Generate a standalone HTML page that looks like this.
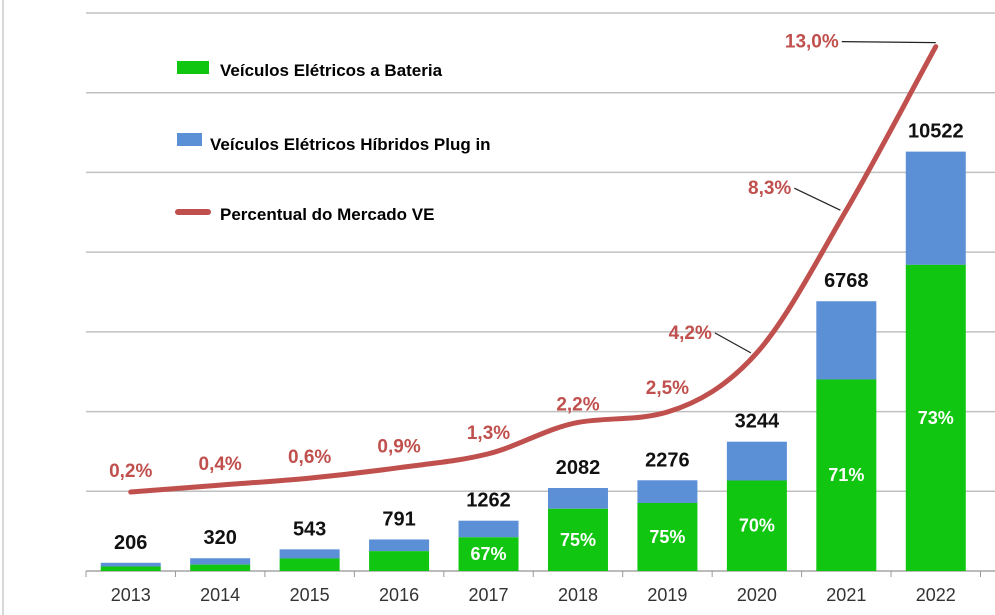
<!DOCTYPE html>
<html><head><meta charset="utf-8"><style>
html,body{margin:0;padding:0;background:#fff;}
svg{display:block;font-family:"Liberation Sans",Arial,sans-serif;}
.lg{font-family:"Liberation Sans",Arial,sans-serif;font-weight:bold;font-size:17px;fill:#000;}
</style></head><body>
<svg id="c" width="995" height="615" viewBox="0 0 995 615">
<rect x="0" y="0" width="995" height="615" fill="#fff"/>
<line x1="3" y1="0" x2="3" y2="615" stroke="#ccc" stroke-width="1.5"/>
<g id="grid"></g><g id="bars"></g><g id="line"></g><g id="labels"></g>
<g>
<rect x="177" y="61" width="32" height="13" fill="#11c611"/>
<text class="lg" x="220" y="76">Veículos Elétricos a Bateria</text>
<rect x="177" y="133" width="25" height="13" fill="#5b8fd6"/>
<text class="lg" x="210" y="150">Veículos Elétricos Híbridos Plug in</text>
<line x1="178" y1="212" x2="208" y2="212" stroke="#c0504d" stroke-width="6" stroke-linecap="round"/>
<text class="lg" x="220" y="220">Percentual do Mercado VE</text>
</g>
</svg>
<script>
const years=["2013","2014","2015","2016","2017","2018","2019","2020","2021","2022"];
const totals=[206,320,543,791,1262,2082,2276,3244,6768,10522];
const bevShare=[0.55,0.5,0.58,0.63,0.67,0.75,0.75,0.70,0.71,0.73];
const shareLabels=["","","","","67%","75%","75%","70%","71%","73%"];
const marketPct=[0.2,0.4,0.6,0.9,1.3,2.2,2.5,4.2,8.3,13.0];
const pctText=["0,2%","0,4%","0,6%","0,9%","1,3%","2,2%","2,5%","4,2%","8,3%","13,0%"];
const yTicks=[0,2000,4000,6000,8000,10000,12000,14000];

const NS="http://www.w3.org/2000/svg";
const X0=86,STEP=89.45,BW=60,BASE=571;
const xc=i=>X0+STEP*(i+0.5);
const yv=v=>BASE-v*(558/14000);
const yp=p=>499-34.8*p;
function mk(tag,attrs,parent){const e=document.createElementNS(NS,tag);for(const k in attrs)e.setAttribute(k,attrs[k]);parent.appendChild(e);return e;}
const G=document.getElementById('grid'),B=document.getElementById('bars'),L=document.getElementById('line'),T=document.getElementById('labels');

yTicks.forEach((t,i)=>{
  const l=mk('line',{x1:X0,x2:995,y1:yv(t),y2:yv(t),stroke:i===0?'#bbb':'#c0c0c0','stroke-width':i===0?2:1.5},G);
  
  
});
for(let i=0;i<=years.length;i++){
  const t=mk('line',{x1:X0+STEP*i,x2:X0+STEP*i,y1:BASE,y2:BASE+6,stroke:'#999','stroke-width':1},G);
  
  
}
years.forEach((y,i)=>{
  const cx=xc(i),top=yv(totals[i]),gtop=yv(totals[i]*bevShare[i]);
  const p=mk('rect',{x:cx-BW/2,y:top,width:BW,height:gtop-top,fill:'#5b8fd6'},B);
  
  
  const g=mk('rect',{x:cx-BW/2,y:gtop,width:BW,height:BASE-gtop,fill:'#11c611'},B);
  
  
  const tl=mk('text',{x:cx,y:top-14,'text-anchor':'middle','font-size':20,'font-weight':'bold',fill:'#111'},T);
  tl.textContent=totals[i];
  
  
  if(shareLabels[i]){
    const sl=mk('text',{x:cx,y:(gtop+BASE)/2+6,'text-anchor':'middle','font-size':18,'font-weight':'bold',fill:'#fff'},T);
    sl.textContent=shareLabels[i];
    
    
  }
  const xl=mk('text',{x:cx,y:601,'text-anchor':'middle','font-size':18,fill:'#333'},T);
  xl.textContent=y;
  
  
});
const pts=marketPct.map((p,i)=>[xc(i),yp(p)]);
const n=pts.length,d=[],m=[];
for(let i=0;i<n-1;i++)d.push((pts[i+1][1]-pts[i][1])/(pts[i+1][0]-pts[i][0]));
m[0]=d[0];m[n-1]=d[n-2];
for(let i=1;i<n-1;i++)m[i]=d[i-1]*d[i]<=0?0:(d[i-1]+d[i])/2;
for(let i=0;i<n-1;i++){if(d[i]===0){m[i]=m[i+1]=0;continue;}const a=m[i]/d[i],b=m[i+1]/d[i],s=a*a+b*b;if(s>9){const t=3/Math.sqrt(s);m[i]=t*a*d[i];m[i+1]=t*b*d[i];}}
let path='M'+pts[0][0]+','+pts[0][1];
for(let i=0;i<n-1;i++){const h=(pts[i+1][0]-pts[i][0])/3;path+=` C${pts[i][0]+h},${pts[i][1]+m[i]*h} ${pts[i+1][0]-h},${pts[i+1][1]-m[i+1]*h} ${pts[i+1][0]},${pts[i+1][1]}`;}
const ln=mk('path',{d:path,fill:'none',stroke:'#c0504d','stroke-width':5,'stroke-linecap':'round'},L);


marketPct.forEach((p,i)=>{
  const cx=xc(i),cy=yp(p);
  let lx=cx,ly=cy-15,anchor='middle';
  if(i>=7){anchor='end';lx=cx-(i===9?97:i===8?55:45);ly=cy+(i===9?1:i===8?-16:-14);
    const ll=mk('line',{x1:lx+3,y1:ly-6,x2:cx-(i===9?0:6),y2:cy-(i===9?4:0),stroke:'#222','stroke-width':1.2},T);
    
    
  } else if(i===5){ly=cy-12;} else if(i===6){ly=cy-18;}
  const t=mk('text',{x:lx,y:ly,'text-anchor':anchor,'font-size':19,'font-weight':'bold',fill:'#c0504d'},T);
  t.textContent=pctText[i];
  
  
});
</script>
</body></html>
